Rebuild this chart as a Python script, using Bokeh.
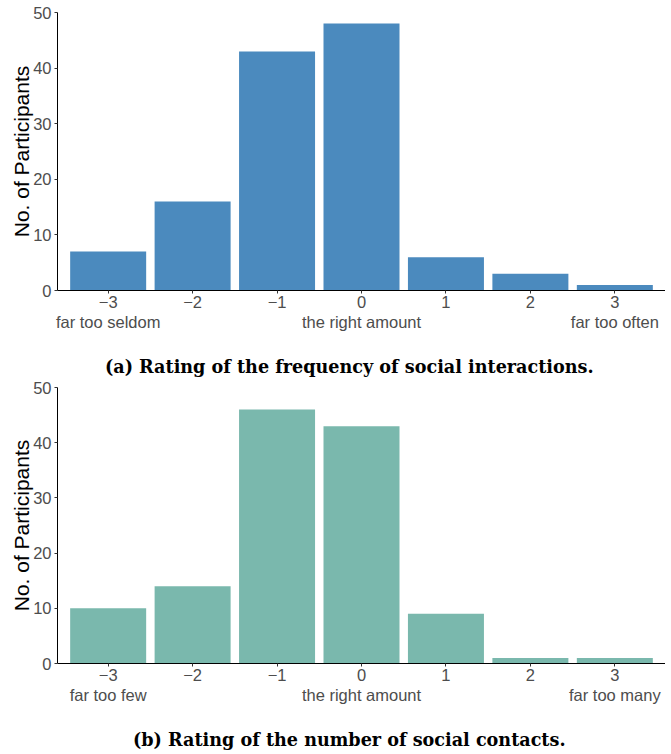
from bokeh.plotting import figure
from bokeh.models import (ColumnDataSource, FixedTicker, LinearAxis, Range1d)
from bokeh.layouts import column
from bokeh.embed import file_html
from bokeh.resources import INLINE

ratings = [-3, -2, -1, 0, 1, 2, 3]
tick_labels = {-3: "\u22123", -2: "\u22122", -1: "\u22121", 0: "0", 1: "1", 2: "2", 3: "3"}
freq_counts = [7, 16, 43, 48, 6, 3, 1]
contact_counts = [10, 14, 46, 43, 9, 1, 1]
freq_anchors = {-3: "far too seldom", 0: "the right amount", 3: "far too often"}
contact_anchors = {-3: "far too few", 0: "the right amount", 3: "far too many"}
y_ticks = [0, 10, 20, 30, 40, 50]
caption_a = "(a) Rating of the frequency of social interactions."
caption_b = "(b) Rating of the number of social contacts."

SANS = "Liberation Sans"
SERIF = "DejaVu Serif"
PAD = "\u00a0" * 4  # shifts the centred caption slightly left, as in the reference


def make_chart(counts, anchors, color, caption, fheight, top, bottom):
    p = figure(frame_width=608, frame_height=fheight, output_backend="svg",
               toolbar_location=None,
               x_range=Range1d(-3.6, 3.6), y_range=Range1d(0, 50),
               min_border_left=57, min_border_right=0, min_border_top=top,
               min_border_bottom=bottom, x_axis_location=None)
    src = ColumnDataSource(dict(x=ratings, top=counts))
    p.vbar(x="x", top="top", width=0.9, bottom=0, source=src,
           fill_color=color, line_color=None)
    p.xgrid.visible = False
    p.ygrid.visible = False
    p.outline_line_color = None

    # y axis
    ya = p.yaxis[0]
    ya.ticker = FixedTicker(ticks=y_ticks)
    ya.axis_label = "No. of Participants"
    ya.axis_label_text_font = SANS
    ya.axis_label_text_font_style = "normal"
    ya.axis_label_text_font_size = "21px"
    ya.axis_label_text_color = "black"
    ya.axis_label_standoff = -3
    ya.major_label_text_font = SANS
    ya.major_label_text_font_size = "16.5px"
    ya.major_label_text_color = "#4d4d4d"
    ya.major_label_standoff = 3
    ya.major_tick_in = 0
    ya.major_tick_out = 3
    ya.minor_tick_line_color = None
    ya.axis_line_color = "black"
    ya.major_tick_line_color = "#333333"

    # x axis with numeric labels
    xa = LinearAxis(ticker=FixedTicker(ticks=ratings),
                    major_label_overrides=tick_labels)
    xa.major_label_text_font = SANS
    xa.major_label_text_font_size = "16.5px"
    xa.major_label_text_color = "#4d4d4d"
    xa.major_label_standoff = 2
    xa.major_tick_in = 0
    xa.major_tick_out = 3
    xa.minor_tick_line_color = None
    xa.axis_line_color = "black"
    xa.major_tick_line_color = "#333333"
    p.add_layout(xa, "below")

    # anchor labels second row, with the caption as its axis label
    xb = LinearAxis(ticker=FixedTicker(ticks=list(anchors.keys())),
                    major_label_overrides=anchors)
    xb.major_label_text_font = SANS
    xb.major_label_text_font_size = "16.5px"
    xb.major_label_text_color = "#4d4d4d"
    xb.major_label_standoff = 2
    xb.major_tick_in = 0
    xb.major_tick_out = 0
    xb.minor_tick_line_color = None
    xb.axis_line_color = None
    xb.major_tick_line_color = None
    xb.axis_label = caption + PAD
    xb.axis_label_text_font = SERIF
    xb.axis_label_text_font_size = "17.6px"
    xb.axis_label_text_font_style = "bold"
    xb.axis_label_text_color = "black"
    xb.axis_label_standoff = 22
    p.add_layout(xb, "below")
    return p


pa = make_chart(freq_counts, freq_anchors, "#4b8abe", caption_a, 278, 12, 90)
pb = make_chart(contact_counts, contact_anchors, "#7ab8ad", caption_b, 276, 7, 90)

layout = column(pa, pb, spacing=0)
open("out.html", "w").write(file_html(layout, INLINE))
